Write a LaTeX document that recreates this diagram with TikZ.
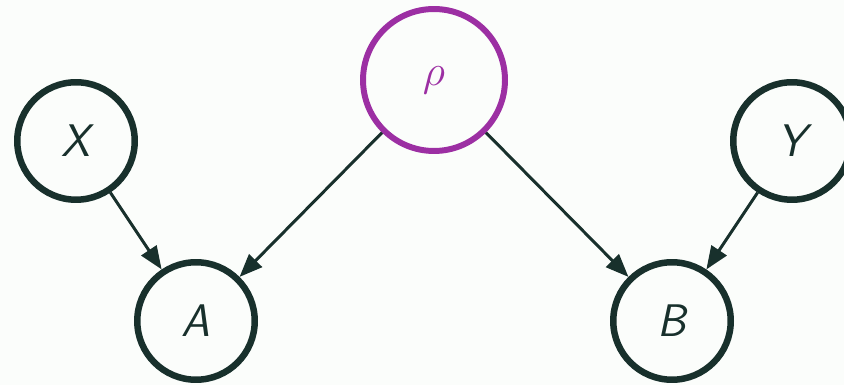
\documentclass[tikz,border=0pt]{standalone}
\usetikzlibrary{arrows.meta}

\definecolor{ink}{HTML}{18302C}
\definecolor{param}{HTML}{9C2FA3}
\definecolor{paper}{HTML}{FBFDFB}

\begin{document}
\begin{tikzpicture}[
        x=0.02cm, y=0.02cm,
        var/.style={circle, draw=ink, line width=3.7pt, minimum size=2.35cm, inner sep=0pt,
                    text=ink, font=\sffamily\slshape\fontsize{26}{30}\selectfont},
        hidden/.style={var, draw=param, text=param, line width=3.4pt, minimum size=2.84cm},
        arr/.style={-{Triangle[length=0.46cm, width=0.36cm]}, draw=ink, line width=1.7pt}
    ]
    \fill[paper] (0,0) rectangle (844,385);
    \useasboundingbox (0,0) rectangle (844,385);

    \node[hidden] (rho) at (434,305) {$\rho$};
    \node[var] (X) at (76,244) {X};
    \node[var] (Y) at (792,244) {Y};
    \node[var] (A) at (196,64) {A};
    \node[var] (B) at (672,64) {B};

    \draw[arr] (X) -- (A);
    \draw[arr] (rho) -- (A);
    \draw[arr] (rho) -- (B);
    \draw[arr] (Y) -- (B);
\end{tikzpicture}
\end{document}
